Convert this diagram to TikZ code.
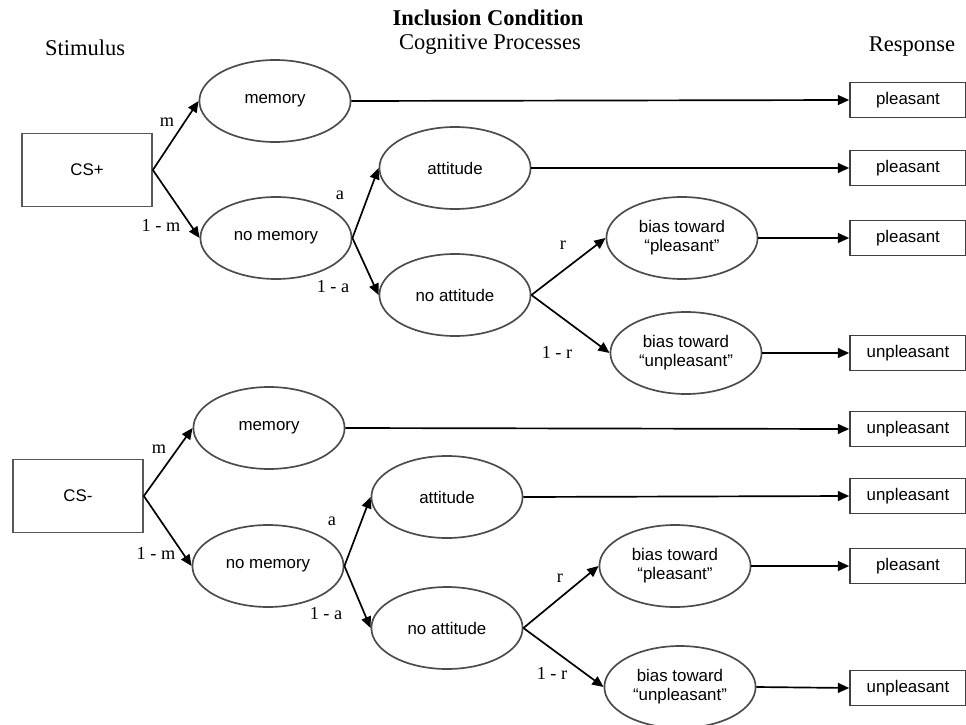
\documentclass[tikz,border=0pt]{standalone}
\usepackage{fontspec}
\setmainfont{Liberation Serif}
\setsansfont{Liberation Sans}
\usetikzlibrary{arrows.meta, shapes.geometric}

\begin{document}
\begin{tikzpicture}[
    >={Triangle[length=8pt, width=7pt]},
    line width=1.2pt,
    proc/.style={ellipse, draw=black!70, line width=1.2pt, minimum width=3.78cm, minimum height=2.05cm, inner sep=0pt, align=center, font=\sffamily\fontsize{12}{13.5}\selectfont},
    stim/.style={rectangle, draw=black!65, line width=1.2pt, minimum width=3.25cm, minimum height=1.83cm, font=\sffamily\fontsize{12}{14}\selectfont},
    resp/.style={rectangle, draw=black!75, line width=1.2pt, minimum width=2.9cm, minimum height=0.87cm, font=\sffamily\fontsize{12}{14}\selectfont},
    prob/.style={font=\fontsize{13}{15}\selectfont},
    head/.style={font=\fontsize{16}{19}\selectfont}
]

    \useasboundingbox (0, 0) rectangle (24.15, -18.125);

    % Headings
    \node[head, font=\fontsize{16}{19}\selectfont\bfseries] (title) at (12.2, -0.45) {Inclusion Condition};
    \node[head] (hproc) at (12.25, -1.1) {Cognitive Processes};
    \node[head] (hstim) at (2.125, -1.2) {Stimulus};
    \node[head] (hresp) at (22.8, -1.175) {Response};

    % 1. Upper tree (CS+)
    \node[stim] (csp) at (2.175, -4.25) {CS+};
    \node[proc] (memA) at (6.875, -2.525) {memory};
    \node[proc] (nomemA) at (6.9, -5.95) {no memory};
    \node[proc] (attA) at (11.375, -4.2) {attitude};
    \node[proc] (noattA) at (11.375, -7.375) {no attitude};
    \node[proc] (biaspA) at (17.05, -5.95) {bias toward\\“pleasant”};
    \node[proc] (biasuA) at (17.15, -8.825) {bias toward\\“unpleasant”};

    \node[resp] (rA1) at (22.7, -2.5) {pleasant};
    \node[resp] (rA2) at (22.7, -4.2) {pleasant};
    \node[resp] (rA3) at (22.7, -5.95) {pleasant};
    \node[resp] (rA4) at (22.7, -8.825) {unpleasant};

    \draw[->] (csp.east) -- (memA.west);
    \draw[->] (csp.east) -- (nomemA.west);
    \draw[->] (nomemA.east) -- (attA.west);
    \draw[->] (nomemA.east) -- (noattA.west);
    \draw[->] (noattA.east) -- (biaspA.west);
    \draw[->] (noattA.east) -- (biasuA.west);
    \draw[->] (memA.east) -- (rA1.west);
    \draw[->] (attA.east) -- (rA2.west);
    \draw[->] (biaspA.east) -- (rA3.west);
    \draw[->] (biasuA.east) -- (rA4.west);

    \node[prob] (pmA) at (4.175, -3.05) {m};
    \node[prob] (pnmA) at (4.025, -5.625) {1 - m};
    \node[prob] (paA) at (8.5, -4.875) {a};
    \node[prob] (pnaA) at (8.325, -7.175) {1 - a};
    \node[prob] (prA) at (14.075, -6.125) {r};
    \node[prob] (pnrA) at (13.925, -8.8) {1 - r};

    % 2. Lower tree (CS-)
    \node[stim] (csm) at (1.95, -12.4) {CS-};
    \node[proc] (memB) at (6.725, -10.7) {memory};
    \node[proc] (nomemB) at (6.7, -14.15) {no memory};
    \node[proc] (attB) at (11.175, -12.425) {attitude};
    \node[proc] (noattB) at (11.175, -15.7) {no attitude};
    \node[proc] (biaspB) at (16.875, -14.15) {bias toward\\“pleasant”};
    \node[proc] (biasuB) at (17.0, -17.175) {bias toward\\“unpleasant”};

    \node[resp] (rB1) at (22.7, -10.725) {unpleasant};
    \node[resp] (rB2) at (22.7, -12.4) {unpleasant};
    \node[resp] (rB3) at (22.7, -14.15) {pleasant};
    \node[resp] (rB4) at (22.7, -17.2) {unpleasant};

    \draw[->] (csm.east) -- (memB.west);
    \draw[->] (csm.east) -- (nomemB.west);
    \draw[->] (nomemB.east) -- (attB.west);
    \draw[->] (nomemB.east) -- (noattB.west);
    \draw[->] (noattB.east) -- (biaspB.west);
    \draw[->] (noattB.east) -- (biasuB.west);
    \draw[->] (memB.east) -- (rB1.west);
    \draw[->] (attB.east) -- (rB2.west);
    \draw[->] (biaspB.east) -- (rB3.west);
    \draw[->] (biasuB.east) -- (rB4.west);

    \node[prob] (pmB) at (3.975, -11.225) {m};
    \node[prob] (pnmB) at (3.9, -13.825) {1 - m};
    \node[prob] (paB) at (8.3, -13.025) {a};
    \node[prob] (pnaB) at (8.15, -15.35) {1 - a};
    \node[prob] (prB) at (14.0, -14.45) {r};
    \node[prob] (pnrB) at (13.8, -16.825) {1 - r};

\end{tikzpicture}
\end{document}
